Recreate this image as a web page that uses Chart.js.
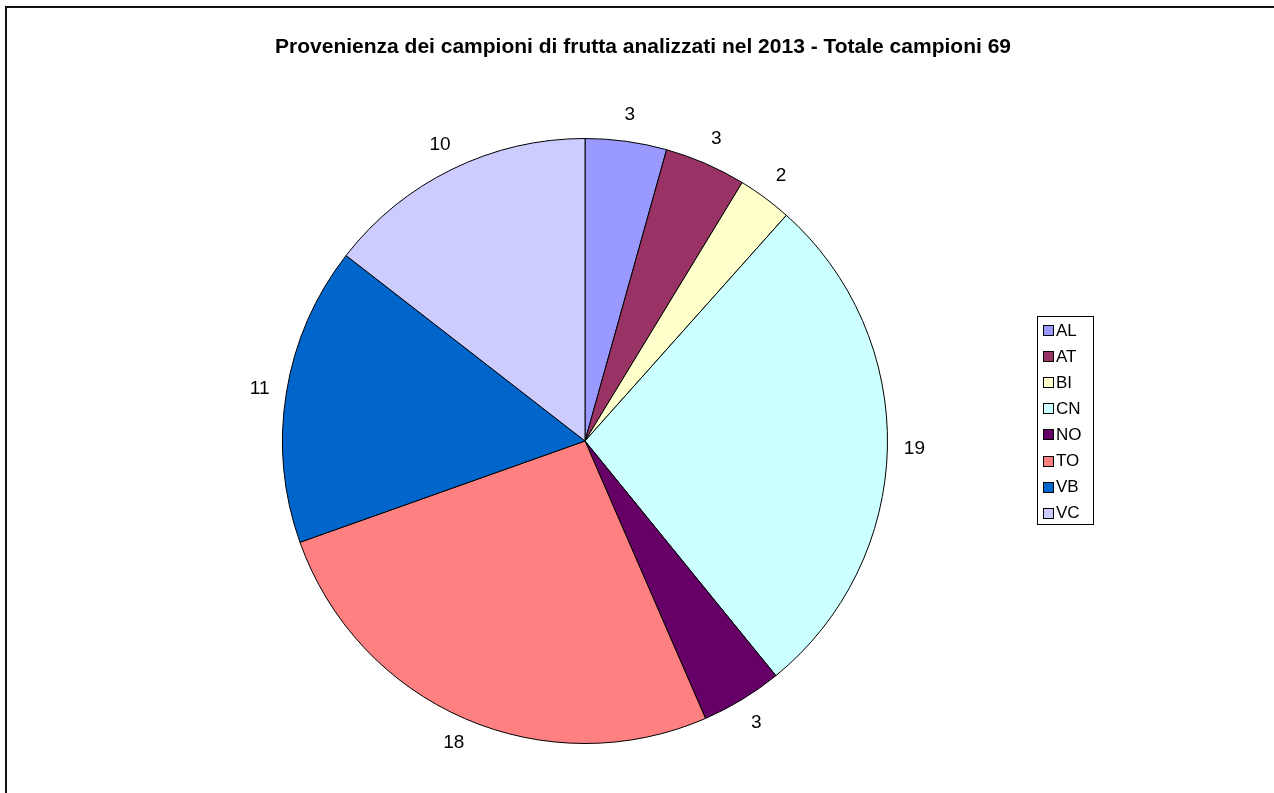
<!DOCTYPE html>
<html>
<head>
<meta charset="utf-8">
<title>Provenienza campioni frutta 2013</title>
<script src="https://cdn.jsdelivr.net/npm/chart.js@4.4.0/dist/chart.umd.min.js"></script>
<style>
  html, body { margin: 0; padding: 0; background: #fff; }
  #pieChart { display: block; }
</style>
</head>
<body>
<canvas id="pieChart" width="1274" height="793"></canvas>
<script>
// province e numero di campioni
const province = ['AL', 'AT', 'BI', 'CN', 'NO', 'TO', 'VB', 'VC'];
const campioni = [3, 3, 2, 19, 3, 18, 11, 10];
const colori = ['#9999FF', '#993366', '#FFFFCC', '#CCFFFF', '#660066', '#FF8080', '#0066CC', '#CCCCFF'];
const titolo = 'Provenienza dei campioni di frutta analizzati nel 2013 - Totale campioni 69';

const FONT = '"Liberation Sans", Arial, sans-serif';

// cornice, titolo, etichette e legenda disegnati a mano
const extras = {
  id: 'extras',
  beforeDraw(chart) {
    const ctx = chart.ctx;
    ctx.save();
    ctx.strokeStyle = '#111';
    ctx.lineWidth = 2;
    ctx.beginPath();
    ctx.moveTo(6, 800);
    ctx.lineTo(6, 7);
    ctx.lineTo(1290, 7);
    ctx.stroke();

    ctx.fillStyle = '#000';
    ctx.font = 'bold 21px ' + FONT;
    ctx.textAlign = 'center';
    ctx.textBaseline = 'middle';
    ctx.fillText(titolo, 643, 47);
    ctx.restore();
  },
  afterDatasetsDraw(chart) {
    const ctx = chart.ctx;
    const meta = chart.getDatasetMeta(0);
    ctx.save();
    ctx.fillStyle = '#000';
    ctx.font = '19px ' + FONT;
    ctx.textAlign = 'center';
    ctx.textBaseline = 'middle';
    meta.data.forEach((arc, i) => {
      const mid = (arc.startAngle + arc.endAngle) / 2;
      const d = arc.outerRadius + 27;
      ctx.fillText(String(campioni[i]), arc.x + Math.cos(mid) * d, arc.y + Math.sin(mid) * d);
    });

    // legenda
    const lx = 1037, ly = 316, lw = 56, lh = 208, step = 26.1;
    ctx.strokeStyle = '#000';
    ctx.lineWidth = 1;
    ctx.strokeRect(lx + 0.5, ly + 0.5, lw, lh);
    ctx.font = '17px ' + FONT;
    ctx.textAlign = 'left';
    province.forEach((p, i) => {
      const cy = ly + 14 + i * step;
      ctx.fillStyle = colori[i];
      ctx.fillRect(lx + 6, Math.round(cy - 5), 10, 10);
      ctx.strokeRect(lx + 6.5, Math.round(cy - 5) + 0.5, 10, 10);
      ctx.fillStyle = '#000';
      ctx.fillText(p, lx + 19, cy + 1);
    });
    ctx.restore();
  }
};

new Chart(document.getElementById('pieChart'), {
  type: 'pie',
  data: {
    labels: province,
    datasets: [{
      data: campioni,
      backgroundColor: colori,
      borderColor: '#000',
      borderWidth: 1
    }]
  },
  options: {
    responsive: false,
    animation: false,
    layout: { padding: { top: 138, bottom: 49, left: 282, right: 386 } },
    plugins: {
      legend: { display: false },
      title: { display: false },
      tooltip: { enabled: false }
    }
  },
  plugins: [extras]
});
</script>
</body>
</html>
